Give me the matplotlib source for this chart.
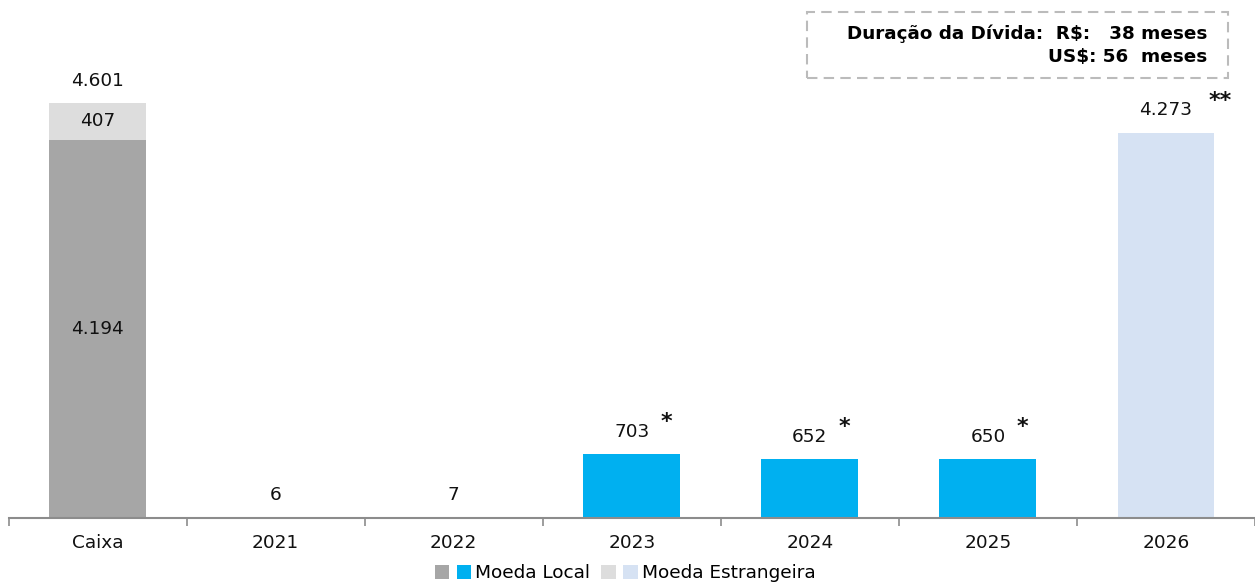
import matplotlib
matplotlib.use("Agg")
import matplotlib.pyplot as plt
from matplotlib.patches import Patch, Rectangle
from matplotlib.legend_handler import HandlerTuple

categories = ["Caixa", "2021", "2022", "2023", "2024", "2025", "2026"]
moeda_local = [4194, 6, 7, 703, 652, 650, 0]
moeda_estrangeira = [407, 0, 0, 0, 0, 0, 4273]
asterisks = ["", "", "", "*", "*", "*", "**"]
duration_lines = ["Duração da Dívida:  R$:   38 meses", "US$: 56  meses"]
legend_labels = ["Moeda Local", "Moeda Estrangeira"]

c_local_caixa = "#A6A6A6"
c_foreign_caixa = "#DDDDDD"
c_local = "#00B0F0"
c_foreign = "#D6E2F3"

plt.rcParams['font.family'] = ['DejaVu Sans']

fig = plt.figure(figsize=(12.55, 5.84), dpi=100)
ax_left = 8.6
ax_w = 1255 - ax_left
ax = fig.add_axes([ax_left/1255, 66.5/584, ax_w/1255, 517.5/584])

def fmt(v):
    return f"{v:,}".replace(",", ".")

x = list(range(len(categories)))
w = 0.544
loc_colors = [c_local_caixa] + [c_local] * (len(categories) - 1)
for_colors = [c_foreign_caixa] + [c_foreign] * (len(categories) - 1)
ax.bar(x, moeda_local, width=w, color=loc_colors, zorder=2)
ax.bar(x, moeda_estrangeira, width=w, bottom=moeda_local, color=for_colors, zorder=2)

ax.set_xlim(-0.5, ax_w / 178.4 - 0.5)
ax.set_ylim(0, 5744)

fs = 13.3
pad = 245
for i in x:
    total = moeda_local[i] + moeda_estrangeira[i]
    ax.text(i, total + pad, fmt(total), ha="center", va="center", fontsize=fs, color="#111111")
    if asterisks[i]:
        off = 25 if len(asterisks[i]) == 1 else 39
        ax.annotate(asterisks[i], xy=(i, total + pad), xytext=(off, 7),
                    textcoords="offset points", ha="center", va="center",
                    fontsize=16, fontweight="bold", color="#111111")
# Caixa segment labels
ax.text(0, moeda_local[0] + moeda_estrangeira[0] / 2, fmt(moeda_estrangeira[0]), ha="center", va="center",
        fontsize=fs, color="#111111")
ax.text(0, moeda_local[0] / 2, fmt(moeda_local[0]), ha="center", va="center", fontsize=fs, color="#111111")

for s in ["top", "right", "left"]:
    ax.spines[s].set_visible(False)
ax.spines["bottom"].set_color("#8C8C8C")
ax.spines["bottom"].set_linewidth(1.5)
ax.set_yticks([])
ax.set_xticks(x)
ax.set_xticklabels(categories, fontsize=fs, color="#111111")
ax.tick_params(axis="x", length=0, pad=12)
ax.set_xticks([i - 0.5 for i in range(len(categories) + 1)], minor=True)
ax.tick_params(axis="x", which="minor", length=6, width=1.2, color="#8C8C8C")

# Duration box
box = Rectangle((807/1255, 1 - 78/584), (1228 - 807)/1255, (78 - 12)/584, transform=fig.transFigure,
                fill=False, edgecolor="#BBBBBB", linestyle=(0, (5, 3)), linewidth=1.5)
fig.patches.append(box)
fig.text(1207/1255, 1 - 34/584, duration_lines[0], ha="right", va="center", fontsize=13.2, fontweight="bold")
fig.text(1207/1255, 1 - 57/584, duration_lines[1], ha="right", va="center", fontsize=13.2, fontweight="bold")

handles = [(Patch(facecolor=c_local_caixa), Patch(facecolor=c_local)),
           (Patch(facecolor=c_foreign_caixa), Patch(facecolor=c_foreign))]
fig.legend(handles, legend_labels, loc="center", bbox_to_anchor=(625/1255, 1 - 573/584), ncol=2,
           frameon=False, fontsize=fs, handler_map={tuple: HandlerTuple(ndivide=None, pad=0.4)},
           handlelength=2.0, handleheight=0.8, handletextpad=0.2, columnspacing=0.6,
           borderpad=0.1)

fig.savefig("out.png", dpi=100)
